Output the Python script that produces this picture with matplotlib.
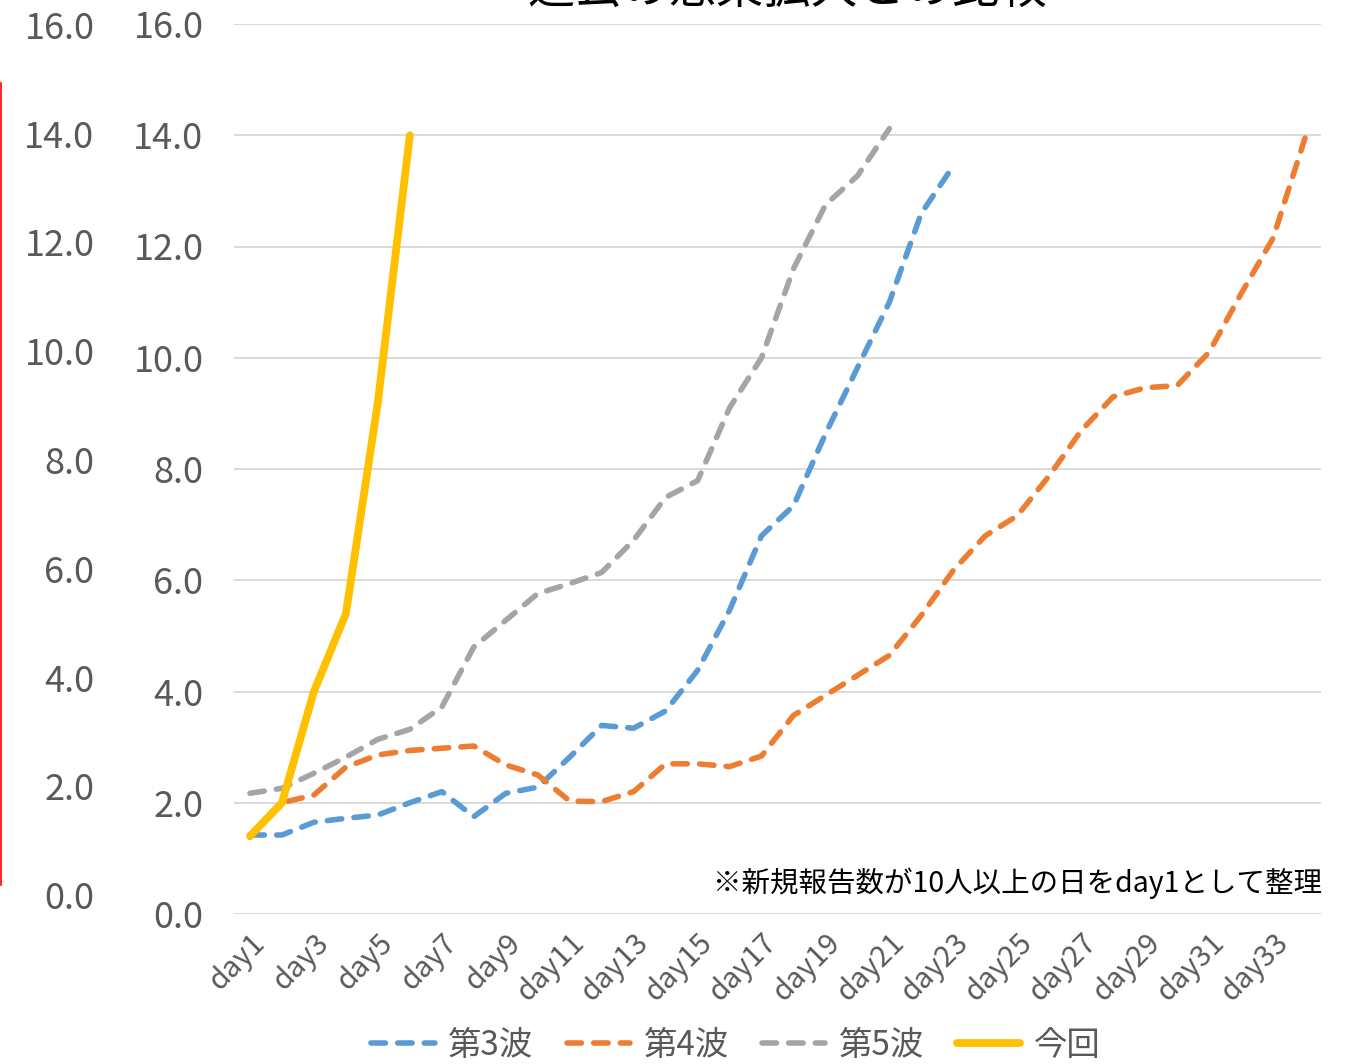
import matplotlib.pyplot as plt
from matplotlib.lines import Line2D
import numpy as np

plt.rcParams['font.family'] = ['Noto Sans CJK JP', 'DejaVu Sans']

days = ["day" + str(i) for i in range(1, 35)]

wave3 = [1.42, 1.42, 1.65, 1.72, 1.78, 2.0, 2.2, 1.75, 2.17, 2.28, 2.82, 3.39,
         3.34, 3.65, 4.38, 5.46, 6.8, 7.34, 8.63, 9.82, 11.0, 12.6, 13.45]
wave4 = [1.38, 2.0, 2.14, 2.64, 2.86, 2.94, 2.98, 3.02, 2.68, 2.5, 2.03, 2.02,
         2.2, 2.7, 2.7, 2.65, 2.84, 3.57, 3.93, 4.29, 4.65, 5.37, 6.18, 6.8,
         7.16, 7.88, 8.69, 9.3, 9.46, 9.5, 10.1, 11.15, 12.15, 13.95]
wave5 = [2.17, 2.26, 2.53, 2.82, 3.14, 3.32, 3.72, 4.8, 5.28, 5.76, 5.94, 6.14,
         6.72, 7.49, 7.79, 9.1, 10.0, 11.6, 12.75, 13.27, 14.12]
current = [1.4, 2.0, 4.0, 5.4, 9.2, 14.0]

W, H = 1345, 1064
fig = plt.figure(figsize=(W / 100, H / 100), dpi=100)

# main plot
ax = fig.add_axes([234 / W, 1 - 914 / H, (1321 - 234) / W, (914 - 24) / H])

dash = (0, (2.6, 2.2))
ax.plot(np.arange(len(wave3)), wave3, color="#5B9BD5", lw=4,
        linestyle=dash, dash_capstyle="round", label="第3波")
ax.plot(np.arange(len(wave4)), wave4, color="#ED7D31", lw=4,
        linestyle=dash, dash_capstyle="round", label="第4波")
ax.plot(np.arange(len(wave5)), wave5, color="#A5A5A5", lw=4,
        linestyle=dash, dash_capstyle="round", label="第5波")
ax.plot(np.arange(len(current)), current, color="#FFC000", lw=5.6,
        solid_capstyle="round", label="今回")

ax.set_xlim(-0.5, len(days) - 0.5)
ax.set_ylim(0, 16)
ax.set_yticks(np.arange(0, 17, 2))
ax.set_yticklabels(["%.1f" % v for v in np.arange(0, 17, 2)])
ax.set_xticks(np.arange(0, len(days), 2))
ax.set_xticklabels(days[::2], rotation=45, ha="right", va="top",
                   rotation_mode="anchor")
ax.tick_params(axis="y", length=0, labelsize=26, labelcolor="#595959", pad=22)
ax.tick_params(axis="x", length=0, labelsize=21, labelcolor="#595959", pad=10)
ax.grid(axis="y", color="#D9D9D9", lw=1.4)
ax.set_axisbelow(True)
for s in ax.spines.values():
    s.set_visible(False)

# leftover axis on the far left
ax2 = fig.add_axes([100 / W, 1 - 895 / H, 0.001, (895 - 25) / H])
ax2.set_ylim(0, 16)
ax2.set_yticks(np.arange(0, 17, 2))
ax2.set_yticklabels(["%.1f" % v for v in np.arange(0, 17, 2)])
ax2.set_xticks([])
ax2.tick_params(axis="y", length=0, labelsize=26, labelcolor="#595959", pad=4)
for s in ax2.spines.values():
    s.set_visible(False)
ax2.patch.set_visible(False)

fig.add_artist(Line2D([1 / W, 1 / W], [1 - 83 / H, 1 - 885 / H],
                      transform=fig.transFigure, color="red", lw=1.2))

# title (cut off at the top, as in the source image)
fig.text(787 / W, 1 + 10 / H, "過去の感染拡大との比較", fontsize=34,
         ha="center", va="center", color="black")

fig.text(1322 / W, 1 - 883 / H, "※新規報告数が10人以上の日をday1として整理",
         fontsize=20.5, ha="right", va="center", color="black")

fig.legend(loc="center", bbox_to_anchor=(736 / W, 1 - 1045 / H), ncol=4,
           frameon=False, fontsize=24, handlelength=1.9, handletextpad=0.4,
           columnspacing=1.0, labelcolor="#595959")

plt.savefig("out.png", dpi=100)
